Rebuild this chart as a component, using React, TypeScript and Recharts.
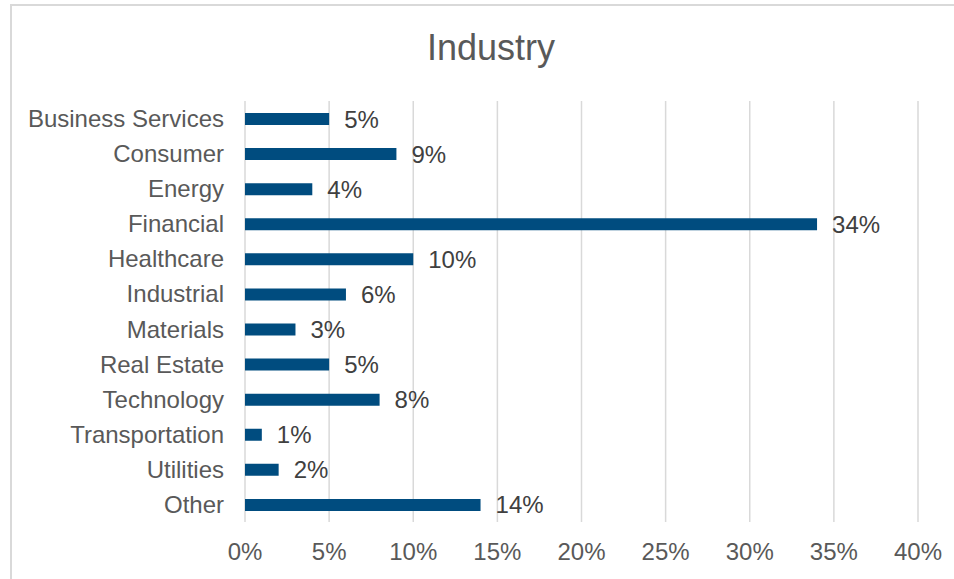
import React from 'react';
import { BarChart, Bar, XAxis, YAxis, CartesianGrid, LabelList } from 'recharts';

// industries top to bottom, share in percent
const industries = [
  'Business Services',
  'Consumer',
  'Energy',
  'Financial',
  'Healthcare',
  'Industrial',
  'Materials',
  'Real Estate',
  'Technology',
  'Transportation',
  'Utilities',
  'Other',
];
const shares = [5, 9, 4, 34, 10, 6, 3, 5, 8, 1, 2, 14];
const percentTicks = [0, 5, 10, 15, 20, 25, 30, 35, 40];

const chartData = industries.map((name, i) => ({ name, share: shares[i] }));

const textColor = '#595959';
const font = '"Liberation Sans", Arial, sans-serif';

export default function App() {
  return (
    <div
      style={{
        position: 'absolute',
        left: 0,
        top: 0,
        width: 954,
        height: 579,
        overflow: 'hidden',
        background: '#fff',
        fontFamily: font,
      }}
    >
      {/* chart area frame, right/bottom edges fall outside the picture */}
      <div
        style={{
          position: 'absolute',
          left: 10,
          top: 4,
          width: 1000,
          height: 700,
          borderLeft: '2px solid #d9d9d9',
          borderTop: '2px solid #d9d9d9',
        }}
      />
      <div
        style={{
          position: 'absolute',
          left: 0,
          top: 30,
          width: 982,
          textAlign: 'center',
          fontSize: 36,
          lineHeight: '36px',
          color: textColor,
        }}
      >
        Industry
      </div>
      <div style={{ position: 'absolute', left: 0, top: 0 }}>
        <BarChart
          width={954}
          height={579}
          data={chartData}
          layout="vertical"
          margin={{ top: 101, right: 36, bottom: 27, left: 0 }}
        >
          <CartesianGrid horizontal={false} stroke="#d9d9d9" strokeWidth={1.5} />
          <XAxis
            type="number"
            domain={[0, 40]}
            ticks={percentTicks}
            tickFormatter={(v) => `${v}%`}
            axisLine={false}
            tickLine={false}
            tickSize={0}
            tickMargin={21}
            height={30}
            interval={0}
            tick={{ fill: textColor, fontSize: 24, fontFamily: font }}
          />
          <YAxis
            type="category"
            dataKey="name"
            width={245}
            axisLine={false}
            tickLine={false}
            tickSize={0}
            tickMargin={21}
            interval={0}
            tick={{ fill: textColor, fontSize: 24, fontFamily: font }}
          />
          <Bar dataKey="share" fill="#004c7f" barSize={12} isAnimationActive={false}>
            <LabelList
              dataKey="share"
              position="right"
              offset={15}
              formatter={(v: number) => `${v}%`}
              style={{ fill: '#404040', fontSize: 24, fontFamily: font }}
            />
          </Bar>
        </BarChart>
      </div>
    </div>
  );
}
